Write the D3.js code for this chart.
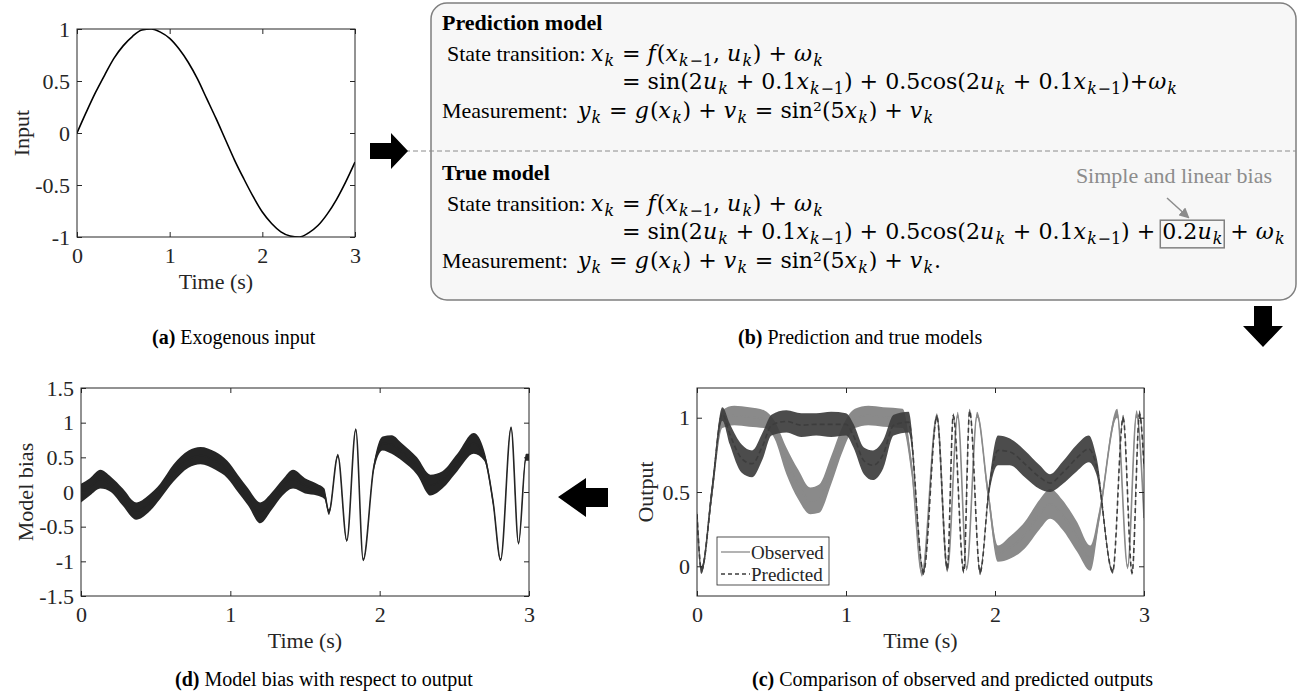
<!DOCTYPE html>
<html>
<head>
<meta charset="utf-8">
<script src="https://cdn.jsdelivr.net/npm/d3@7"></script>
<style>
  body { margin: 0; background: #fff; }
  svg { display: block; }
</style>
</head>
<body>
<script>
// ---- data ----
// (a) exogenous input
const inputTime  = [0, 0.1, 0.2, 0.3, 0.4, 0.5, 0.6, 0.7, 0.8, 0.9, 1.0, 1.1, 1.2, 1.3, 1.4, 1.5,
                    1.6, 1.7, 1.8, 1.9, 2.0, 2.1, 2.2, 2.3, 2.4, 2.5, 2.6, 2.7, 2.8, 2.9, 3.0];
const inputValue = [0, 0.2, 0.39, 0.56, 0.72, 0.84, 0.93, 0.99, 1.0, 0.97, 0.91, 0.81, 0.68, 0.52, 0.33, 0.14,
                    -0.06, -0.26, -0.44, -0.61, -0.76, -0.87, -0.95, -0.99, -1.0, -0.96, -0.89, -0.78, -0.64, -0.47, -0.28];

// (c) observed output: time, lower and upper edge of the noisy trace
const obsTime = [0, 0.03, 0.10, 0.17, 0.25, 0.35, 0.45, 0.52, 0.60, 0.68, 0.76, 0.82, 0.90, 0.98, 1.06, 1.15,
                 1.25, 1.38, 1.44, 1.51, 1.61, 1.68, 1.75, 1.81, 1.88, 1.95, 2.02, 2.10, 2.20, 2.30, 2.37,
                 2.45, 2.55, 2.64, 2.70, 2.82, 2.89, 2.95, 3.00];
const obsLow  = [0.33, -0.05, 0.45, 0.93, 0.95, 0.94, 0.93, 0.86, 0.62, 0.45, 0.35, 0.36, 0.55, 0.78, 0.93, 0.95,
                 0.94, 0.93, 0.62, -0.07, 1.0, -0.04, 1.0, -0.03, 1.0, 0.48, 0.03, 0.05, 0.12, 0.25, 0.32,
                 0.25, 0.10, -0.03, 0.30, 1.0, -0.02, 1.0, 0.30];
const obsHigh = [0.37, 0.0, 0.55, 1.05, 1.08, 1.07, 1.05, 0.98, 0.80, 0.65, 0.53, 0.55, 0.74, 0.95, 1.06, 1.08,
                 1.07, 1.06, 0.72, -0.03, 1.03, -0.01, 1.04, 0.0, 1.04, 0.56, 0.14, 0.20, 0.30, 0.45, 0.52,
                 0.45, 0.30, 0.14, 0.38, 1.06, 0.01, 1.05, 0.35];

// (c) predicted output
const predTime = [0, 0.03, 0.10, 0.17, 0.22, 0.30, 0.37, 0.44, 0.50, 0.60, 0.70, 0.80, 0.90, 1.00, 1.05, 1.12,
                  1.18, 1.25, 1.32, 1.42, 1.52, 1.61, 1.68, 1.72, 1.79, 1.83, 1.90, 1.96, 2.02, 2.10, 2.20,
                  2.30, 2.37, 2.45, 2.55, 2.63, 2.68, 2.79, 2.86, 2.92, 2.97, 3.00];
const predLow  = [0.33, -0.05, 0.45, 0.98, 0.82, 0.63, 0.60, 0.72, 0.88, 0.90, 0.87, 0.88, 0.87, 0.88, 0.80, 0.62,
                  0.58, 0.66, 0.88, 0.90, -0.06, 0.99, -0.03, 1.0, -0.05, 1.03, -0.06, 0.48, 0.68, 0.68, 0.60,
                  0.52, 0.50, 0.55, 0.64, 0.70, 0.62, -0.05, 0.98, -0.06, 1.0, 0.65];
const predHigh = [0.37, 0.0, 0.55, 1.07, 0.96, 0.82, 0.78, 0.90, 1.02, 1.05, 1.03, 1.03, 1.04, 1.03, 0.96, 0.80,
                  0.78, 0.85, 1.02, 1.04, -0.02, 1.02, 0.0, 1.03, -0.02, 1.06, -0.02, 0.56, 0.88, 0.86, 0.78,
                  0.68, 0.62, 0.70, 0.82, 0.88, 0.74, -0.02, 1.02, -0.03, 1.05, 0.70];

// (d) model bias
const biasTime = [0, 0.06, 0.13, 0.20, 0.28, 0.37, 0.45, 0.53, 0.62, 0.72, 0.80, 0.90, 0.98, 1.05, 1.12, 1.20,
                  1.28, 1.35, 1.42, 1.50, 1.58, 1.63, 1.66, 1.72, 1.78, 1.84, 1.89, 1.96, 2.02, 2.08, 2.15,
                  2.25, 2.34, 2.42, 2.52, 2.63, 2.70, 2.76, 2.81, 2.88, 2.93, 2.98, 3.00];
const biasLow  = [-0.15, -0.05, 0.05, 0.0, -0.20, -0.40, -0.30, -0.10, 0.15, 0.35, 0.40, 0.32, 0.20, 0.0, -0.20, -0.45,
                  -0.25, -0.05, 0.05, -0.02, -0.05, -0.10, -0.33, 0.50, -0.72, 0.88, -1.0, 0.30, 0.60, 0.55, 0.45,
                  0.25, -0.05, 0.05, 0.30, 0.55, 0.45, -0.20, -1.0, 0.90, -0.76, 0.45, 0.45];
const biasHigh = [0.12, 0.20, 0.32, 0.22, 0.05, -0.15, -0.05, 0.12, 0.40, 0.60, 0.65, 0.58, 0.45, 0.25, 0.05, -0.15,
                  0.0, 0.18, 0.32, 0.20, 0.12, 0.05, -0.25, 0.55, -0.68, 0.92, -0.96, 0.40, 0.80, 0.82, 0.70,
                  0.50, 0.25, 0.30, 0.55, 0.85, 0.60, -0.10, -0.96, 0.95, -0.72, 0.55, 0.55];

// tick values
const timeTicks   = [0, 1, 2, 3];
const inputTicks  = [-1, -0.5, 0, 0.5, 1];
const outputTicks = [0, 0.5, 1];
const biasTicks   = [-1.5, -1, -0.5, 0, 0.5, 1, 1.5];

const serif = "'Liberation Serif','Times New Roman',serif";
const mathFont = "'DejaVu Serif',serif";
const axisColor = "#262626";

const svg = d3.select("body").append("svg")
  .attr("width", 1301).attr("height", 700)
  .attr("font-family", serif);

//build one matlab style axes box, returns scales
const makePanel = o => {
  const x = d3.scaleLinear().domain(o.xDomain).range([o.left, o.right]);
  const y = d3.scaleLinear().domain(o.yDomain).range([o.bottom, o.top]);
  const fmt = d => String(d);
  const g = svg.append("g");
  const clipId = "clip" + o.name;
  svg.append("clipPath").attr("id", clipId).append("rect")
    .attr("x", o.left).attr("y", o.top).attr("width", o.right - o.left).attr("height", o.bottom - o.top);
  const plot = g.append("g").attr("clip-path", `url(#${clipId})`);
  const ax = g.append("g");
  ax.append("g").attr("transform", `translate(0,${o.bottom})`)
    .call(d3.axisBottom(x).tickValues(timeTicks).tickSize(-5).tickPadding(10).tickFormat(fmt));
  ax.append("g").attr("transform", `translate(0,${o.top})`)
    .call(d3.axisTop(x).tickValues(timeTicks).tickSize(-5).tickFormat(""));
  ax.append("g").attr("transform", `translate(${o.left},0)`)
    .call(d3.axisLeft(y).tickValues(o.yTicks).tickSize(-5).tickPadding(7).tickFormat(fmt));
  ax.append("g").attr("transform", `translate(${o.right},0)`)
    .call(d3.axisRight(y).tickValues(o.yTicks).tickSize(-5).tickFormat(""));
  ax.selectAll(".domain").remove();
  ax.selectAll(".tick line").attr("stroke", axisColor);
  ax.selectAll(".tick text").attr("font-family", serif).attr("font-size", 22).attr("fill", axisColor);
  ax.append("rect").attr("x", o.left).attr("y", o.top)
    .attr("width", o.right - o.left).attr("height", o.bottom - o.top)
    .attr("fill", "none").attr("stroke", axisColor).attr("stroke-width", 1);
  g.append("text").attr("x", (o.left + o.right) / 2).attr("y", o.bottom + 52)
    .attr("text-anchor", "middle").attr("font-size", 22).attr("fill", axisColor).text("Time (s)");
  g.append("text").attr("transform", `translate(${o.yLabelX},${(o.top + o.bottom) / 2}) rotate(-90)`)
    .attr("text-anchor", "middle").attr("font-size", 22).attr("fill", axisColor).text(o.yLabel);
  return {x, y, plot, g};
};

//noisy trace drawn as a band between low and high edge plus its centre line
const drawBand = (p, time, low, high, color, dashed) => {
  const rows = time.map((t, i) => ({t, lo: low[i], hi: high[i]}));
  p.plot.append("path").datum(rows)
    .attr("fill", color).attr("fill-opacity", dashed ? 0.92 : 1)
    .attr("d", d3.area().curve(d3.curveMonotoneX)
      .x(d => p.x(d.t)).y0(d => p.y(d.lo)).y1(d => p.y(d.hi)));
  p.plot.append("path").datum(rows)
    .attr("fill", "none").attr("stroke", color).attr("stroke-width", 1.6)
    .attr("stroke-dasharray", dashed ? "5,3" : null)
    .attr("d", d3.line().curve(d3.curveMonotoneX)
      .x(d => p.x(d.t)).y(d => p.y((d.lo + d.hi) / 2)));
};

// ---- (a) ----
const pa = makePanel({name: "a", left: 77, right: 355, top: 29, bottom: 237,
  xDomain: [0, 3], yDomain: [-1, 1], yTicks: inputTicks, yLabel: "Input", yLabelX: 29});
pa.plot.append("path").datum(inputTime.map((t, i) => [t, inputValue[i]]))
  .attr("fill", "none").attr("stroke", "#000").attr("stroke-width", 1.6)
  .attr("d", d3.line().curve(d3.curveMonotoneX).x(d => pa.x(d[0])).y(d => pa.y(d[1])));

// ---- (d) ----
const pd = makePanel({name: "d", left: 81, right: 529, top: 388, bottom: 596,
  xDomain: [0, 3], yDomain: [-1.5, 1.5], yTicks: biasTicks, yLabel: "Model bias", yLabelX: 33});
drawBand(pd, biasTime, biasLow, biasHigh, "#252525", false);

// ---- (c) ----
const pc = makePanel({name: "c", left: 697, right: 1144, top: 388, bottom: 596,
  xDomain: [0, 3], yDomain: [-0.2, 1.2], yTicks: outputTicks, yLabel: "Output", yLabelX: 653});
drawBand(pc, obsTime, obsLow, obsHigh, "#8a8a8a", false);
drawBand(pc, predTime, predLow, predHigh, "#3d3d3d", true);

// legend
const leg = pc.g.append("g");
leg.append("rect").attr("x", 717).attr("y", 537).attr("width", 112).attr("height", 48)
  .attr("fill", "#fff").attr("stroke", axisColor).attr("stroke-width", 0.8);
[["Observed", "#8a8a8a", null], ["Predicted", "#3d3d3d", "4,3"]].forEach((r, i) => {
  const yy = 552 + i * 22;
  leg.append("line").attr("x1", 721).attr("x2", 750).attr("y1", yy).attr("y2", yy)
    .attr("stroke", r[1]).attr("stroke-width", 1.3).attr("stroke-dasharray", r[2]);
  leg.append("text").attr("x", 751).attr("y", yy + 7).attr("font-size", 19).attr("fill", axisColor).text(r[0]);
});

// ---- (b) model box ----
const box = svg.append("g");
box.append("rect").attr("x", 431).attr("y", 3).attr("width", 865).attr("height", 297).attr("rx", 16)
  .attr("fill", "#f7f7f7").attr("stroke", "#7f7f7f").attr("stroke-width", 1.5);
box.append("line").attr("x1", 405).attr("x2", 1296).attr("y1", 151).attr("y2", 151)
  .attr("stroke", "#8c8c8c").attr("stroke-width", 1).attr("stroke-dasharray", "5,3");

//split a small math string into runs (italic letters, subscripts, box marks)
const parseMath = str => {
  const runs = [];
  const push = (text, italic, level) => {
    const last = runs[runs.length - 1];
    if (last && !last.mark && last.italic === italic && last.level === level) last.text += text;
    else runs.push({text, italic, level});
  };
  const walk = (s, level) => {
    let j = 0;
    while (j < s.length) {
      const c = s[j];
      if (c === "_" && s[j + 1] === "{") {
        let depth = 1, k = j + 2;
        while (depth > 0) { if (s[k] === "{") depth++; else if (s[k] === "}") depth--; k++; }
        walk(s.slice(j + 2, k - 1), -1);
        j = k; continue;
      }
      if (c === "[" || c === "]") { runs.push({mark: c, text: ""}); j++; continue; }
      if (s.startsWith("sin", j) || s.startsWith("cos", j)) { push(s.substr(j, 3), false, level); j += 3; continue; }
      push(c === " " ? "\u00A0" : c, /[A-Za-zω]/.test(c), level);
      j++;
    }
  };
  walk(str, 0);
  return runs;
};

const drawMath = (parent, str, x, y, size) => {
  const g = parent.append("g").attr("font-family", mathFont).attr("fill", "#000");
  let cx = 0;
  const marks = {};
  parseMath(str).forEach(r => {
    if (r.mark) { marks[r.mark] = cx; return; }
    const fs = r.level === 0 ? size : size * 0.72;
    const dy = r.level < 0 ? size * 0.24 : 0;
    const t = g.append("text").attr("x", cx).attr("y", dy).attr("font-size", fs)
      .attr("font-style", r.italic ? "italic" : "normal").text(r.text);
    cx += t.node().getComputedTextLength() + (r.italic ? fs * 0.05 : 0); //italic correction
  });
  g.attr("transform", `translate(${x},${y})`);
  return {g, width: cx, marks};
};

const xEq = 622;
const predRow3 = "= sin(2u_{k} + 0.1x_{k−1}) + 0.5cos(2u_{k} + 0.1x_{k−1})+ω_{k}";
const probe = drawMath(box, predRow3, 0, -100, 20);
const mathSize = Math.max(16, Math.min(23, 20 * (1178 - xEq) / probe.width));
probe.g.remove();

const modelBlock = (dy, title, row3, row4) => {
  box.append("text").attr("x", 442).attr("y", 30 + dy).attr("font-size", 22)
    .attr("font-weight", "bold").text(title);
  box.append("text").attr("x", 447).attr("y", 61 + dy).attr("font-size", 22).text("State transition:");
  box.append("text").attr("x", 442).attr("y", 118 + dy).attr("font-size", 22).text("Measurement:");
  const lhs = drawMath(box, "x_{k} ", 0, 61 + dy, mathSize);
  lhs.g.attr("transform", `translate(${xEq - lhs.width},${61 + dy})`);
  drawMath(box, "= f(x_{k−1}, u_{k}) + ω_{k}", xEq, 61 + dy, mathSize);
  const r3 = drawMath(box, row3, xEq, 89 + dy, mathSize);
  drawMath(box, row4, 578, 118 + dy, mathSize);
  return r3;
};

modelBlock(0, "Prediction model", predRow3, "y_{k} = g(x_{k}) + v_{k} = sin²(5x_{k}) + v_{k}");
const trueRow3 = modelBlock(150, "True model",
  "= sin(2u_{k} + 0.1x_{k−1}) + 0.5cos(2u_{k} + 0.1x_{k−1}) + [0.2u_{k}] + ω_{k}",
  "y_{k} = g(x_{k}) + v_{k} = sin²(5x_{k}) + v_{k}.");

// highlighted bias term
box.append("rect")
  .attr("x", xEq + trueRow3.marks["["] - 2).attr("y", 239 - mathSize * 0.85)
  .attr("width", trueRow3.marks["]"] - trueRow3.marks["["] + 3).attr("height", mathSize * 1.25)
  .attr("fill", "none").attr("stroke", "#808080").attr("stroke-width", 1.5);
box.append("text").attr("x", 1272).attr("y", 183).attr("text-anchor", "end")
  .attr("font-size", 22).attr("fill", "#8c8c8c").text("Simple and linear bias");
svg.append("defs").append("marker").attr("id", "head").attr("viewBox", "0 0 10 10")
  .attr("refX", 8).attr("refY", 5).attr("markerWidth", 7).attr("markerHeight", 7).attr("orient", "auto")
  .append("path").attr("d", "M0,0L10,5L0,10z").attr("fill", "#8c8c8c");
box.append("line").attr("x1", 1167).attr("y1", 198).attr("x2", 1188).attr("y2", 217)
  .attr("stroke", "#8c8c8c").attr("stroke-width", 1.5).attr("marker-end", "url(#head)");

// ---- block arrows ----
const arrows = [
  [[370, 143], [391, 143], [391, 133], [408, 151], [391, 169], [391, 159], [370, 159]],
  [[1254, 306], [1272, 306], [1272, 326], [1283, 326], [1263, 347], [1243, 326], [1254, 326]],
  [[608, 488], [586, 488], [586, 478], [558, 497], [586, 517], [586, 507], [608, 507]]
];
svg.append("g").selectAll("path").data(arrows).join("path")
  .attr("d", d => d3.line()(d) + "Z").attr("fill", "#000");

// ---- captions ----
const captions = [
  {x: 152, y: 344, tag: "(a)", text: " Exogenous input", anchor: "start"},
  {x: 738, y: 344, tag: "(b)", text: " Prediction and true models", anchor: "start"},
  {x: 1153, y: 686, tag: "(c)", text: " Comparison of observed and predicted outputs", anchor: "end"},
  {x: 175, y: 686, tag: "(d)", text: " Model bias with respect to output", anchor: "start"}
];
captions.forEach(c => {
  const t = svg.append("text").attr("x", c.x).attr("y", c.y).attr("font-size", 20)
    .attr("text-anchor", c.anchor).attr("fill", "#000");
  t.append("tspan").attr("font-weight", "bold").text(c.tag);
  t.append("tspan").text(c.text);
});
</script>
</body>
</html>
